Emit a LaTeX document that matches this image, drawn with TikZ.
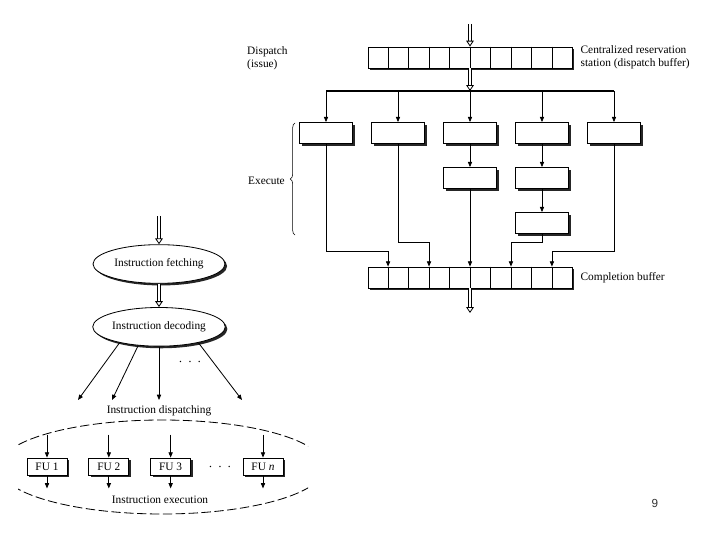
\documentclass[tikz,border=0pt]{standalone}
\usepackage{fontspec}
\setmainfont{Liberation Serif}
\setsansfont{Liberation Sans}
\usetikzlibrary{arrows.meta,calc,positioning,shapes.geometric,shadows,decorations.pathreplacing}

\begin{document}
\begin{tikzpicture}[x=.03cm,y=-.03cm,>={Triangle[length=4.5pt,width=3.6pt]},
 font=\fontsize{9.7}{11.2}\selectfont,
 shadowed/.style={drop shadow={shadow xshift=1.8pt,shadow yshift=-1.8pt,fill=black,opacity=.85}},
 ubox/.style={draw,fill=white,line width=.7pt,minimum width=1.59cm,minimum height=.63cm,inner sep=0pt,shadowed},
 buf/.style={draw,fill=white,line width=.7pt,minimum width=6.12cm,minimum height=.63cm,inner sep=0pt,shadowed},
 stage/.style={ellipse,draw,fill=white,line width=.7pt,minimum width=3.96cm,minimum height=1.16cm,inner sep=0pt,shadowed},
 fu/.style={draw,fill=white,line width=.7pt,minimum width=1.2cm,minimum height=.51cm,inner sep=0pt,shadowed},
 dbl/.style={double distance=1.8pt,line width=.7pt,-{Triangle[open,length=5pt,width=6.5pt]}},
 wire/.style={->,line width=.7pt}]
 \useasboundingbox (0,0) rectangle (720,540);
 \node[buf] (dbuf) at (470,57.5) {};
 \node[buf] (cbuf) at (470,277.5) {};
 \foreach \b in {dbuf,cbuf}
  \foreach \k in {1,...,9}
   \draw[line width=.5pt] ($(\b.north west)!\k/10!(\b.north east)$) -- ($(\b.south west)!\k/10!(\b.south east)$);
 \node[anchor=north west,align=left,inner sep=0pt] (dlbl) at (247,46) {Dispatch\\(issue)};
 \node[right=.24cm of dbuf,align=left,inner sep=0pt] (rslbl) {Centralized reservation\\station (dispatch buffer)};
 \node[right=.24cm of cbuf,inner sep=0pt] (cblbl) {Completion buffer};
 \node[ubox] (eu1) at (326,133) {};
 \node[ubox] (eu2) at (398,133) {};
 \node[ubox] (eu3) at (470,133) {};
 \node[ubox] (eu4) at (542,133) {};
 \node[ubox] (eu5) at (614,133) {};
 \node[ubox] (eu3b) at (470,178) {};
 \node[ubox] (eu4b) at (542,178) {};
 \node[ubox] (eu4c) at (542,223) {};
 \node[anchor=east,inner sep=0pt] (exlbl) at (285,181) {Execute};
 \draw[decorate,decoration={brace,amplitude=4pt},line width=.5pt] (295,235) -- (295,123);
 \coordinate (busl) at (326,91);
 \coordinate (busr) at (614,91);
 \draw[line width=1pt] (busl) -- (busr);
 \foreach \i in {1,...,5} \draw[wire] (eu\i.north |- busl) -- (eu\i.north);
 \coordinate (src) at (470,24);
 \draw[dbl] (src) -- (dbuf.north);
 \draw[dbl] (dbuf.south) -- (dbuf.south |- busl);
 \draw[wire] (eu3.south) -- (eu3b.north);
 \draw[wire] (eu4.south) -- (eu4b.north);
 \draw[wire] (eu4b.south) -- (eu4c.north);
 \foreach \k/\n in {1/c1,3/c2,5/c3,7/c4,9/c5} \coordinate (\n) at ($(cbuf.north west)!\k/10!(cbuf.north east)$);
 \draw[wire] (eu1.south) |- ($(c1)+(0,-15)$) -- (c1);
 \draw[wire] (eu2.south) |- ($(c2)+(0,-24)$) -- (c2);
 \draw[wire] (eu3b.south) -- (c3);
 \draw[wire] (eu4c.south) |- ($(c4)+(0,-24)$) -- (c4);
 \draw[wire] (eu5.south) |- ($(c5)+(0,-15)$) -- (c5);
 \coordinate (sink) at (470,313);
 \draw[dbl] (cbuf.south) -- (sink);
 \coordinate (fin) at (159,216);
 \node[stage] (fetch) at (159,264) {Instruction fetching};
 \node[stage,below=.7cm of fetch] (decode) {Instruction decoding};
 \draw[dbl] (fin) -- (fetch.north);
 \draw[dbl] (fetch.south) -- (decode.north);
 \coordinate (d1) at (78,400);
 \coordinate (d2) at (112,400);
 \coordinate (d3) at (159,400);
 \coordinate (d4) at (242,400);
 \draw[wire] (decode.202) -- (d1);
 \draw[wire] (decode.222) -- (d2);
 \draw[wire] (decode.south) -- (d3);
 \draw[wire] (decode.338) -- (d4);
 \node (ddots) at (190,362) {\large$\cdot\,\cdot\,\cdot$};
 \node (displbl) at (159,411) {Instruction dispatching};
 \begin{scope}
  \clip (18,400) rectangle (308,520);
  \draw[line width=.7pt,dash pattern=on 8pt off 3pt] (162,467) ellipse [x radius=163,y radius=47];
 \end{scope}
 \node[fu] (fu1) at (47,466.5) {FU 1};
 \node[fu,right=.63cm of fu1] (fu2) {FU 2};
 \node[fu,right=.63cm of fu2] (fu3) {FU 3};
 \node[fu] (fun) at (263,466.5) {FU \textit{n}};
 \node (fdots) at (220,467) {\large$\cdot\,\cdot\,\cdot$};
 \foreach \f in {fu1,fu2,fu3,fun} {
  \draw[wire] ($(\f.north)+(0,-23)$) -- (\f.north);
  \draw[wire] (\f.south) -- ($(\f.south)+(0,13)$);
 }
 \node (exelbl) at (160,500) {Instruction execution};
 \node[font=\sffamily\fontsize{10}{12}\selectfont,text=black!80] (pg) at (655,503) {9};
\end{tikzpicture}
\end{document}
